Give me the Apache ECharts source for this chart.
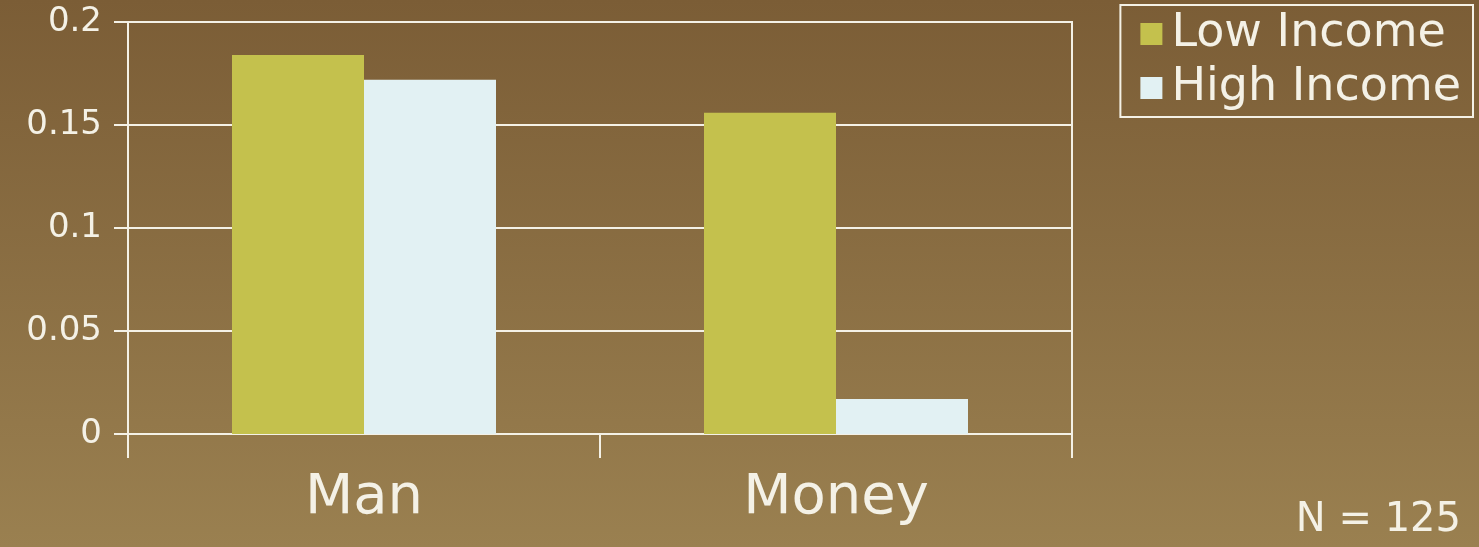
<!DOCTYPE html>
<html>
<head>
<meta charset="utf-8">
<script src="https://cdn.jsdelivr.net/npm/echarts@6/dist/echarts.min.js"></script>
<style>
  html, body { margin: 0; padding: 0; }
  #chart { width: 1479px; height: 547px; }
</style>
</head>
<body>
<div id="chart"></div>
<script>
const categories = ['Man', 'Money'];
const lowIncome = [0.184, 0.156];
const highIncome = [0.172, 0.017];
const yTicks = [0, 0.05, 0.1, 0.15, 0.2];

const chart = echarts.init(document.getElementById('chart'));
const white = '#f4f1e6';
const font = '"DejaVu Sans", sans-serif';

chart.setOption({
  backgroundColor: {
    type: 'linear', x: 0, y: 0, x2: 0, y2: 1,
    colorStops: [
      { offset: 0, color: '#7b5d36' },
      { offset: 1, color: '#9a8050' }
    ]
  },
  animation: false,
  textStyle: { fontFamily: font },
  grid: {
    left: 128, right: 407, top: 22, bottom: 113,
    show: true, borderColor: white, borderWidth: 2
  },
  legend: {
    right: 6, top: 5,
    orient: 'vertical',
    itemWidth: 22, itemHeight: 22, itemGap: 8,
    padding: [6, 12, 6, 20],
    borderColor: white, borderWidth: 2,
    icon: 'rect',
    textStyle: { color: white, fontSize: 46, fontFamily: font, padding: [0, 0, 0, 4] },
    data: ['Low Income', 'High Income']
  },
  xAxis: {
    type: 'category',
    data: categories,
    axisLine: { lineStyle: { color: white, width: 2 } },
    axisTick: { show: true, length: 24, lineStyle: { color: white, width: 2 } },
    axisLabel: { color: white, fontSize: 56, margin: 36, fontFamily: font }
  },
  yAxis: {
    type: 'value',
    min: yTicks[0], max: yTicks[yTicks.length - 1], interval: 0.05,
    axisLine: { show: true, lineStyle: { color: white, width: 2 } },
    axisTick: { show: true, length: 14, lineStyle: { color: white, width: 2 } },
    axisLabel: { color: white, fontSize: 34, margin: 26, fontFamily: font },
    splitLine: { lineStyle: { color: white, width: 2 } }
  },
  series: [
    {
      name: 'Low Income', type: 'bar', data: lowIncome,
      barWidth: 132, barGap: '0%',
      itemStyle: { color: '#c4c14d' }
    },
    {
      name: 'High Income', type: 'bar', data: highIncome,
      barWidth: 132,
      itemStyle: { color: '#e2f1f3' }
    }
  ],
  graphic: [{
    type: 'text', right: 18, bottom: 6,
    style: { text: 'N = 125', fill: white, font: '40px ' + font }
  }]
});
</script>
</body>
</html>
